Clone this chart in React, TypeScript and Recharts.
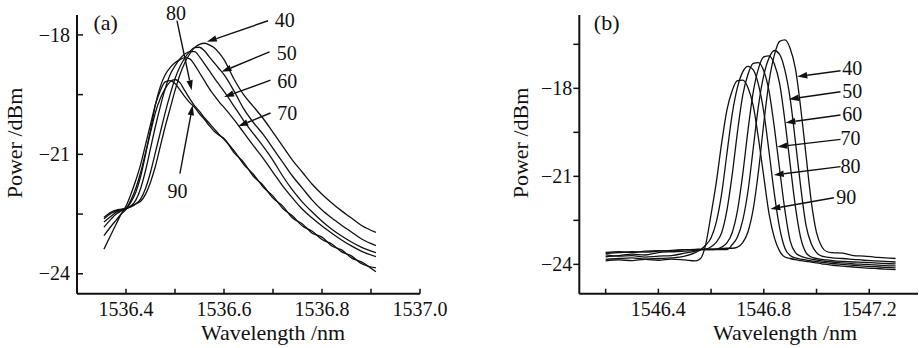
import { LineChart, Line, XAxis, YAxis, ReferenceLine, ReferenceDot } from "recharts";

const FONT = "'Liberation Serif', 'DejaVu Serif', 'Times New Roman', serif";
const INK = "#111";
const TXT = { fontFamily: FONT, fill: INK };

const SERIES = ["40", "50", "60", "70", "80", "90"];

// panel (a): 1536 nm grating
const WAVE_A = [
  1536.355, 1536.37, 1536.38, 1536.39, 1536.4, 1536.41, 1536.42, 1536.43, 1536.44, 1536.45,
  1536.46, 1536.47, 1536.48, 1536.49, 1536.5, 1536.51, 1536.52, 1536.53, 1536.54, 1536.55,
  1536.56, 1536.57, 1536.58, 1536.59, 1536.6, 1536.62, 1536.64, 1536.66, 1536.68, 1536.7,
  1536.72, 1536.74, 1536.76, 1536.78, 1536.8, 1536.82, 1536.84, 1536.86, 1536.88, 1536.91,
];
const A40 = [
  -22.62, -22.48, -22.42, -22.38, -22.36, -22.3, -22.24, -22.18, -22.0, -21.7,
  -21.3, -20.8, -20.3, -19.85, -19.4, -19.0, -18.7, -18.48, -18.32, -18.24,
  -18.21, -18.25, -18.32, -18.45, -18.62, -19.1, -19.5, -19.8, -20.1, -20.45,
  -20.8, -21.15, -21.45, -21.75, -22.0, -22.22, -22.42, -22.6, -22.78, -22.96,
];
const A50 = [
  -22.58, -22.45, -22.4, -22.38, -22.36, -22.32, -22.25, -22.12, -21.85, -21.45,
  -20.95, -20.45, -19.95, -19.5, -19.1, -18.8, -18.58, -18.42, -18.32, -18.31,
  -18.4, -18.55, -18.7, -18.85, -19.0, -19.4, -19.85, -20.2, -20.5, -20.85,
  -21.2, -21.55, -21.85, -22.15, -22.4, -22.6, -22.78, -22.95, -23.12, -23.29,
];
const A60 = [
  -22.7, -22.55, -22.45, -22.4, -22.37, -22.3, -22.15, -21.85, -21.4, -20.85,
  -20.3, -19.8, -19.35, -19.0, -18.78, -18.6, -18.48, -18.42, -18.42, -18.55,
  -18.72, -18.9, -19.08, -19.25, -19.42, -19.78, -20.15, -20.48, -20.8, -21.15,
  -21.55, -21.9, -22.2, -22.45, -22.68, -22.88, -23.05, -23.2, -23.33, -23.47,
];
const A70 = [
  -22.83, -22.62, -22.5, -22.42, -22.36, -22.2, -21.95, -21.55, -21.0, -20.4,
  -19.75, -19.3, -19.0, -18.82, -18.7, -18.62, -18.57, -18.6, -18.75, -18.95,
  -19.15, -19.35, -19.52, -19.68, -19.82, -20.12, -20.45, -20.78, -21.1, -21.45,
  -21.8, -22.1, -22.38, -22.6, -22.8, -22.98, -23.15, -23.3, -23.43, -23.57,
];
const A80 = [
  -23.04, -22.8, -22.65, -22.5, -22.38, -22.15, -21.85, -21.45, -20.95, -20.45,
  -19.95, -19.6, -19.35, -19.18, -19.12, -19.2, -19.4, -19.6, -19.78, -19.92,
  -20.08, -20.22, -20.36, -20.5, -20.62, -20.9, -21.25, -21.5, -21.82, -22.05,
  -22.36, -22.55, -22.8, -22.93, -23.14, -23.25, -23.45, -23.55, -23.74, -23.85,
];
const A90 = [
  -23.38, -23.0, -22.75, -22.5, -22.3, -22.0, -21.65, -21.25, -20.75, -20.25,
  -19.75, -19.4, -19.18, -19.15, -19.22, -19.38, -19.55, -19.7, -19.82, -19.98,
  -20.12, -20.28, -20.42, -20.52, -20.6, -20.95, -21.2, -21.55, -21.78, -22.1,
  -22.3, -22.6, -22.75, -22.98, -23.08, -23.3, -23.4, -23.6, -23.7, -23.95,
];

// panel (b): 1546 nm grating
const WAVE_B = [
  1546.2, 1546.25, 1546.3, 1546.35, 1546.4, 1546.45, 1546.5, 1546.54, 1546.56, 1546.58,
  1546.6, 1546.62, 1546.64, 1546.66, 1546.68, 1546.7, 1546.72, 1546.74, 1546.76, 1546.78,
  1546.8, 1546.82, 1546.84, 1546.86, 1546.88, 1546.9, 1546.92, 1546.94, 1546.96, 1546.98,
  1547.0, 1547.02, 1547.04, 1547.06, 1547.1, 1547.14, 1547.18, 1547.22, 1547.26, 1547.3,
];
const B40 = [
  -23.63, -23.6, -23.57, -23.58, -23.55, -23.52, -23.5, -23.49, -23.48, -23.48,
  -23.47, -23.47, -23.46, -23.45, -23.45, -23.41, -23.26, -22.89, -22.11, -20.81,
  -19.18, -17.76, -16.87, -16.4, -16.35, -16.64, -17.33, -18.67, -20.27, -21.85,
  -22.92, -23.4, -23.57, -23.6, -23.62, -23.7, -23.72, -23.75, -23.78, -23.8,
];
const B50 = [
  -23.59, -23.57, -23.6, -23.55, -23.53, -23.55, -23.5, -23.5, -23.5, -23.5,
  -23.5, -23.5, -23.5, -23.5, -23.33, -23.07, -22.5, -21.5, -20.04, -18.58,
  -17.55, -16.96, -16.71, -16.84, -17.38, -18.35, -19.82, -21.36, -22.66, -23.3,
  -23.6, -23.72, -23.75, -23.78, -23.8, -23.83, -23.86, -23.88, -23.9, -23.92,
];
const B60 = [
  -23.74, -23.7, -23.65, -23.68, -23.6, -23.57, -23.55, -23.52, -23.5, -23.5,
  -23.5, -23.48, -23.41, -23.27, -22.92, -22.17, -20.93, -19.43, -18.12, -17.32,
  -16.93, -16.89, -17.17, -17.84, -19.1, -20.59, -22.04, -23.1, -23.6, -23.75,
  -23.8, -23.83, -23.85, -23.87, -23.9, -23.92, -23.93, -23.95, -23.97, -23.98,
];
const B70 = [
  -23.68, -23.72, -23.7, -23.75, -23.72, -23.7, -23.62, -23.55, -23.5, -23.48,
  -23.4, -23.24, -22.92, -22.16, -20.95, -19.49, -18.24, -17.52, -17.15, -17.12,
  -17.41, -18.1, -19.33, -20.76, -22.15, -23.2, -23.6, -23.72, -23.78, -23.82,
  -23.85, -23.88, -23.9, -23.92, -23.95, -23.98, -24.0, -24.02, -24.04, -24.05,
];
const B80 = [
  -23.83, -23.8, -23.78, -23.82, -23.8, -23.78, -23.72, -23.6, -23.5, -23.34,
  -23.09, -22.55, -21.6, -20.23, -18.89, -17.97, -17.44, -17.25, -17.37, -17.88,
  -18.81, -20.17, -21.6, -22.76, -23.45, -23.7, -23.78, -23.82, -23.85, -23.88,
  -23.9, -23.93, -23.95, -23.97, -24.0, -24.03, -24.06, -24.08, -24.1, -24.12,
];
const B90 = [
  -23.88, -23.85, -23.87, -23.83, -23.86, -23.82, -23.85, -23.88, -23.8, -23.3,
  -22.29, -21.19, -19.87, -18.74, -18.08, -17.74, -17.72, -17.98, -18.6, -19.72,
  -21.02, -22.28, -23.09, -23.55, -23.75, -23.8, -23.84, -23.87, -23.9, -23.92,
  -23.95, -23.98, -24.0, -24.03, -24.06, -24.09, -24.12, -24.14, -24.16, -24.18,
];

// axis ticks (all drawn), and the ones that carry a label
const TICKS_A_X = [1536.4, 1536.5, 1536.6, 1536.7, 1536.8, 1536.9, 1537.0];
const LABELS_A_X = [1536.4, 1536.6, 1536.8, 1537.0];
const TICKS_A_Y = [-24, -22.5, -21, -19.5, -18];
const TICKS_B_X = [1546.2, 1546.4, 1546.6, 1546.8, 1547.0, 1547.2];
const LABELS_B_X = [1546.4, 1546.8, 1547.2];
const TICKS_B_Y = [-24, -22.5, -21, -19.5, -18, -16.5];
const LABELS_Y = [-24, -21, -18];

// arrow annotations: tail (near the label) -> head (on the curve), in data units
const ARROW_A_FROM = [[1536.690, -17.644], [1536.693, -18.424], [1536.695, -19.137], [1536.695, -19.961], [1536.504, -17.643], [1536.510, -21.487]];
const ARROW_A_TO = [[1536.565, -18.173], [1536.595, -18.928], [1536.600, -19.558], [1536.629, -20.296], [1536.534, -19.39], [1536.536, -19.767]];
const LABEL_A_AT = [[1536.724, -17.634], [1536.728, -18.457], [1536.729, -19.163], [1536.729, -19.969], [1536.502, -17.45], [1536.505, -21.92]];

const ARROW_B_FROM = [[1547.091, -17.4], [1547.091, -18.115], [1547.091, -18.91], [1547.091, -19.74], [1547.091, -20.67], [1547.066, -21.73]];
const ARROW_B_TO = [[1546.927, -17.6], [1546.895, -18.37], [1546.882, -19.17], [1546.851, -19.99], [1546.838, -20.955], [1546.825, -22.11]];
const LABEL_B_AT = [[1547.136, -17.317], [1547.136, -18.081], [1547.136, -18.875], [1547.129, -19.704], [1547.129, -20.648], [1547.113, -21.705]];

const rowsA = WAVE_A.map((x, i) => ({ x, s40: A40[i], s50: A50[i], s60: A60[i], s70: A70[i], s80: A80[i], s90: A90[i] }));
const rowsB = WAVE_B.map((x, i) => ({ x, s40: B40[i], s50: B50[i], s60: B60[i], s70: B70[i], s80: B80[i], s90: B90[i] }));

const X_GAP = 8;
const Y_GAP = 7;

const has = (list: number[], v: number) => list.some((l) => Math.abs(l - v) < 1e-6);
const fmtY = (v: number) => (v < 0 ? "\u2212" + Math.abs(v) : String(v));

const xTick = (labels: number[]) => (props: any) => {
  const { x, y, payload } = props;
  const v = payload.value as number;
  return (
    <g>
      <line x1={x} x2={x} y1={y - X_GAP} y2={y - X_GAP - 5} stroke={INK} strokeWidth={1.5} />
      {has(labels, v) && (
        <text x={x} y={y} dy="0.71em" textAnchor="middle" fontSize={20} style={TXT}>
          {v.toFixed(1)}
        </text>
      )}
    </g>
  );
};

const yTick = (inward: boolean) => (props: any) => {
  const { x, y, payload } = props;
  const v = payload.value as number;
  const ax = x + Y_GAP;
  return (
    <g>
      <line x1={ax} x2={inward ? ax + 6 : ax - 6} y1={y} y2={y} stroke={INK} strokeWidth={1.5} />
      {has(LABELS_Y, v) && (
        <text x={x} y={y} dy="0.33em" textAnchor="end" fontSize={20} style={TXT}>
          {fmtY(v)}
        </text>
      )}
    </g>
  );
};

const arrowShape = (p: any) => {
  const { x1, y1, x2, y2 } = p;
  const a = Math.atan2(y2 - y1, x2 - x1);
  const len = 10;
  const half = 3.2;
  const bx = x2 - len * Math.cos(a);
  const by = y2 - len * Math.sin(a);
  const nx = -Math.sin(a) * half;
  const ny = Math.cos(a) * half;
  return (
    <g>
      <line x1={x1} y1={y1} x2={bx} y2={by} stroke={INK} strokeWidth={1.4} />
      <polygon points={`${x2},${y2} ${bx + nx},${by + ny} ${bx - nx},${by - ny}`} fill={INK} />
    </g>
  );
};

const labelShape = (text: string) => (p: any) => (
  <text x={p.cx} y={p.cy} dy="0.35em" textAnchor="middle" fontSize={20} style={TXT}>
    {text}
  </text>
);

function Panel(props: {
  rows: any[];
  width: number;
  yAxisWidth: number;
  marginRight: number;
  xDomain: number[];
  yDomain: number[];
  xTicks: number[];
  xLabels: number[];
  yTicks: number[];
  inwardY: boolean;
  from: number[][];
  to: number[][];
  labelAt: number[][];
  tag: string;
  tagX: number;
  yTitleX: number;
  xTitleX: number;
}) {
  const p = props;
  return (
    <LineChart
      width={p.width}
      height={348}
      data={p.rows}
      margin={{ top: 15, right: p.marginRight, left: 0, bottom: 14.3 }}
      style={{ fontFamily: FONT }}
    >
      <XAxis
        dataKey="x"
        type="number"
        domain={p.xDomain}
        allowDataOverflow
        ticks={p.xTicks}
        interval={0}
        tickSize={0}
        tickMargin={X_GAP}
        tickLine={false}
        tick={xTick(p.xLabels)}
        axisLine={{ stroke: INK, strokeWidth: 2 }}
        height={40}
      />
      <YAxis
        type="number"
        domain={p.yDomain}
        allowDataOverflow
        ticks={p.yTicks}
        interval={0}
        tickSize={0}
        tickMargin={Y_GAP}
        tickLine={false}
        tick={yTick(p.inwardY)}
        axisLine={{ stroke: INK, strokeWidth: 2 }}
        width={p.yAxisWidth}
      />
      {SERIES.map((s) => (
        <Line
          key={s}
          dataKey={"s" + s}
          type="monotone"
          stroke={INK}
          strokeWidth={1.3}
          dot={false}
          activeDot={false}
          isAnimationActive={false}
        />
      ))}
      {SERIES.map((s, i) => (
        <ReferenceLine
          key={"arrow" + s}
          segment={[
            { x: p.from[i][0], y: p.from[i][1] },
            { x: p.to[i][0], y: p.to[i][1] },
          ]}
          ifOverflow="visible"
          shape={arrowShape}
        />
      ))}
      {SERIES.map((s, i) => (
        <ReferenceDot
          key={"label" + s}
          x={p.labelAt[i][0]}
          y={p.labelAt[i][1]}
          r={0}
          ifOverflow="visible"
          shape={labelShape(s)}
        />
      ))}
      <text x={p.tagX} y={30} textAnchor="middle" fontSize={22} style={TXT}>
        {p.tag}
      </text>
      <text
        transform={`translate(${p.yTitleX}, 143) rotate(-90)`}
        textAnchor="middle"
        fontSize={22}
        style={TXT}
      >
        Power /dBm
      </text>
      <text x={p.xTitleX} y={340} textAnchor="middle" fontSize={22} style={TXT}>
        Wavelength /nm
      </text>
    </LineChart>
  );
}

export default function App() {
  return (
    <div
      style={{
        position: "absolute",
        left: 0,
        top: 0,
        width: 919,
        height: 348,
        background: "#fff",
        overflow: "hidden",
        fontFamily: FONT,
      }}
    >
      <div style={{ position: "absolute", left: 0, top: 0 }}>
        <Panel
          rows={rowsA}
          width={460}
          yAxisWidth={77}
          marginRight={40}
          xDomain={[1536.3, 1537.0]}
          yDomain={[-24.5, -17.5]}
          xTicks={TICKS_A_X}
          xLabels={LABELS_A_X}
          yTicks={TICKS_A_Y}
          inwardY
          from={ARROW_A_FROM}
          to={ARROW_A_TO}
          labelAt={LABEL_A_AT}
          tag="(a)"
          tagX={105.7}
          yTitleX={21.5}
          xTitleX={273}
        />
      </div>
      <div style={{ position: "absolute", left: 460, top: 0 }}>
        <Panel
          rows={rowsB}
          width={459}
          yAxisWidth={119.3}
          marginRight={1}
          xDomain={[1546.1, 1547.385]}
          yDomain={[-25, -15.5]}
          xTicks={TICKS_B_X}
          xLabels={LABELS_B_X}
          yTicks={TICKS_B_Y}
          inwardY={false}
          from={ARROW_B_FROM}
          to={ARROW_B_TO}
          labelAt={LABEL_B_AT}
          tag="(b)"
          tagX={146.7}
          yTitleX={68.3}
          xTitleX={325}
        />
      </div>
    </div>
  );
}
